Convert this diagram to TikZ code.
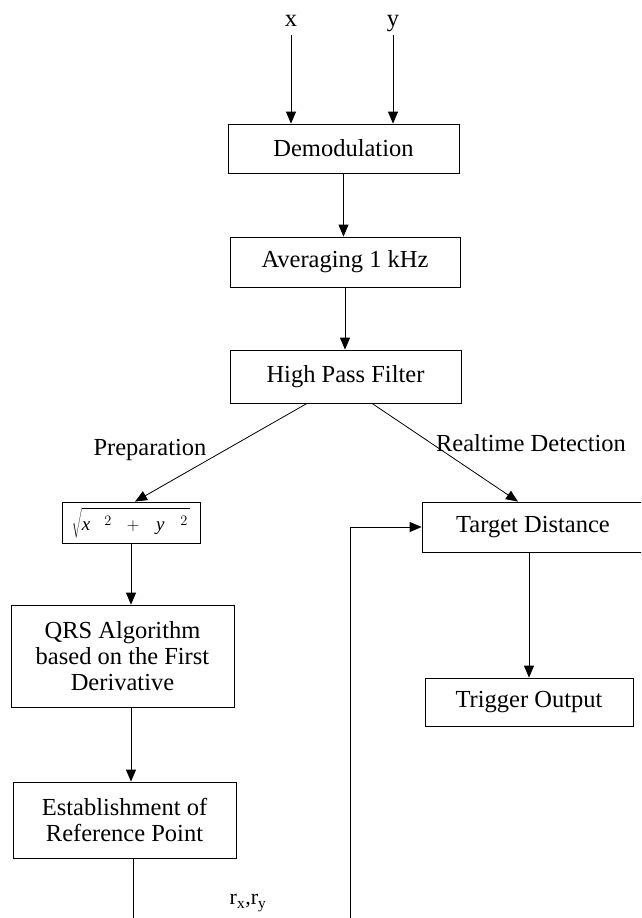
\documentclass[tikz,border=0pt]{standalone}
\usepackage{fontspec}
\setmainfont{Liberation Serif}
\usetikzlibrary{arrows.meta,calc}
\begin{document}
\begin{tikzpicture}[x=1pt,y=-1pt,
  blk/.style={draw, line width=0.8pt, inner sep=0pt, align=center,
              font=\fontsize{24.5}{26}\selectfont},
  lbl/.style={inner sep=0pt, font=\fontsize{24.5}{26}\selectfont},
  flow/.style={line width=0.8pt, -{Triangle[length=12pt,width=10pt]}},
  wire/.style={line width=0.8pt}]
\useasboundingbox (0,0) rectangle (641,918);
\clip (0,0) rectangle (641,918);

% inputs
\node[lbl, anchor=base] (lx) at (291,27) {x};
\node[lbl, anchor=base] (ly) at (393,27) {y};

% main processing chain
\node[blk, minimum width=231pt, minimum height=49pt] (demod) at (343.5,148.5) {Demodulation};
\node[blk, minimum width=230pt, minimum height=50pt] (avg) at (345,262) {Averaging 1 kHz};
\node[blk, minimum width=231pt, minimum height=53pt] (hpf) at (345.5,376.5) {High Pass Filter};

% preparation branch: magnitude of the (x, y) vector
\node[blk, minimum width=138pt, minimum height=41pt,
      font=\fontsize{19}{21}\selectfont] (mag) at (131,522.5)
  {$\sqrt{\rule[-5pt]{0pt}{24pt}\textit{x}\hspace{14pt}{}^{2}\hspace{11pt}+\hspace{13pt}\textit{y}\hspace{16pt}{}^{2}\hspace{2pt}}$};
\node[blk, minimum width=223pt, minimum height=102pt] (qrs) at (122.5,656)
  {QRS Algorithm\\based on the First\\Derivative};
\node[blk, minimum width=223pt, minimum height=76pt] (est) at (124.5,820)
  {Establishment of\\Reference Point};

% realtime branch
\node[blk, minimum width=222pt, minimum height=50pt] (td) at (533,527) {Target Distance};
\node[blk, minimum width=208pt, minimum height=48pt] (trig) at (529,702) {Trigger Output};

% branch labels
\node[lbl] (prep) at (150,450) {Preparation};
\node[lbl] (rt) at (531,443) {Realtime Detection};
\node[inner sep=0pt, font=\fontsize{22}{24}\selectfont] (rxy) at (248,903)
  {r\textsubscript{x},r\textsubscript{y}};

% loose ends of the reference-point feedback
\coordinate (lend) at (133,925);
\coordinate (rend) at (350,925);

% connectors
\draw[flow] ([yshift=-8pt]lx.base) -- (lx.base |- demod.north);
\draw[flow] ([yshift=-8pt]ly.base) -- (ly.base |- demod.north);
\draw[flow] (demod.south) -- (demod.south |- avg.north);
\draw[flow] (avg.south) -- (avg.south |- hpf.north);
\draw[flow] ($(hpf.south)+(-38.5,0)$) -- ($(mag.north)+(4,0)$);
\draw[flow] ($(hpf.south)+(26.5,0)$) -- ($(td.north)+(-15,0)$);
\draw[flow] (mag.south) -- (mag.south |- qrs.north);
\draw[flow] (qrs.south -| mag.south) -- (est.north -| mag.south);
\draw[wire] (est.south -| lend) -- (lend);
\draw[flow] (rend) |- (td.west);
\draw[flow] (trig.north |- td.south) -- (trig.north);
\end{tikzpicture}
\end{document}
